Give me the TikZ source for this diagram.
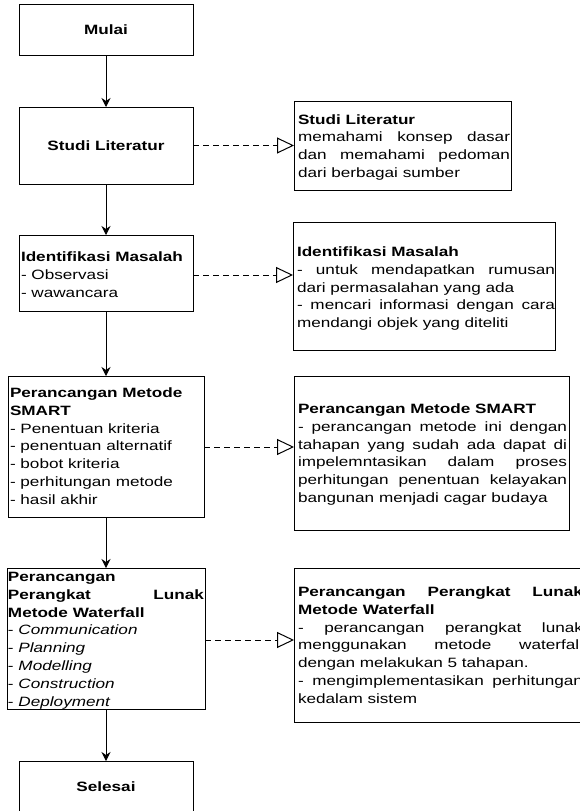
\documentclass[tikz,border=0pt]{standalone}
\usepackage{fontspec}
\setmainfont{Liberation Sans}[FakeStretch=1.27]
\usetikzlibrary{arrows.meta}
\newcommand\jl[2]{{\spaceskip=0pt\xspaceskip=0pt\makebox[#1pt][s]{#2}}}
\newcommand\fst{\rule{0pt}{11pt}}
\begin{document}
\begin{tikzpicture}[x=1pt,y=-1pt,
  box/.style={draw=black, line width=1pt, inner sep=0pt, outer sep=0pt, rectangle},
  lbl/.style={font=\fontsize{13.5}{17.8}\selectfont\bfseries, inner sep=0pt},
  txt/.style={anchor=north west, inner sep=0pt, outer sep=0pt, align=flush left,
              font=\fontsize{13.5}{17.8}\selectfont},
  flow/.style={draw=black, line width=1pt, -{Stealth[length=9pt,width=9pt,inset=3pt]}},
  rel/.style={draw=black, line width=1pt, dash pattern=on 5.5pt off 4.5pt,
              -{Triangle[open,length=17pt,width=16pt,line width=1pt]}}
]
\useasboundingbox (0,0) rectangle (580,811);

% left column boxes
\node[box, minimum width=174pt, minimum height=51pt] (mulai) at (106,29.5) {};
\node[lbl] (tmulai) at (106,30) {Mulai};
\node[box, minimum width=174pt, minimum height=77pt] (studi) at (106,145.5) {};
\node[lbl] (tstudi) at (106,146) {Studi Literatur};
\node[box, minimum width=174pt, minimum height=76pt] (ident) at (106,273) {};
\node[box, minimum width=196pt, minimum height=141pt] (smart) at (106,446.5) {};
\node[box, minimum width=198pt, minimum height=141pt] (water) at (106,638.5) {};
\node[box, minimum width=174pt, minimum height=51pt] (selesai) at (106,786.5) {};
\node[lbl] (tselesai) at (106,787) {Selesai};

% right column boxes
\node[box, minimum width=217pt, minimum height=89pt] (rstudi) at (402.5,145.5) {};
\node[box, minimum width=262pt, minimum height=128pt] (rident) at (424,286) {};
\node[box, minimum width=275pt, minimum height=154pt] (rsmart) at (431.5,453) {};
\node[box, minimum width=292pt, minimum height=154pt] (rwater) at (440,645) {};

% left texts
\node[txt, text width=180pt] (tident) at (21,250.5) {\fst\textbf{Identifikasi Masalah}\\
- Observasi\\
- wawancara};
\node[txt, text width=192pt] (tsmart) at (10,386.5) {\fst\textbf{Perancangan Metode}\\
\textbf{SMART}\\
- Penentuan kriteria\\
- penentuan alternatif\\
- bobot kriteria\\
- perhitungan metode\\
- hasil akhir};
\node[txt, text width=196pt] (twater) at (8,570.5) {\fst\textbf{Perancangan}\\
\jl{196}{\textbf{Perangkat Lunak}}\\
\textbf{Metode Waterfall}\\
- \textit{Communication}\\
- \textit{Planning}\\
- \textit{Modelling}\\
- \textit{Construction}\\
- \textit{Deployment}};

% right texts
\node[txt, text width=212pt] (trstudi) at (298,113) {\fst\textbf{Studi Literatur}\\
\jl{212}{memahami konsep dasar}\\
\jl{212}{dan memahami pedoman}\\
dari berbagai sumber};
\node[txt, text width=258pt] (trident) at (297,245.5) {\fst\textbf{Identifikasi Masalah}\\
\jl{258}{- untuk mendapatkan rumusan}\\
dari permasalahan yang ada\\
\jl{258}{- mencari informasi dengan cara}\\
mendangi objek yang diteliti};
\node[txt, text width=269pt] (trsmart) at (298,402.5) {\fst\textbf{Perancangan Metode SMART}\\
\jl{269}{- perancangan metode ini dengan}\\
\jl{269}{tahapan yang sudah ada dapat di}\\
\jl{269}{impelemntasikan dalam proses}\\
\jl{269}{perhitungan penentuan kelayakan}\\
bangunan menjadi cagar budaya};
\node[txt, text width=285pt] (trwater) at (298,585.5) {\fst\jl{285}{\textbf{Perancangan Perangkat Lunak}}\\
\textbf{Metode Waterfall}\\
\jl{285}{- perancangan perangkat lunak}\\
\jl{285}{menggunakan metode waterfall}\\
dengan melakukan 5 tahapan.\\
\jl{285}{- mengimplementasikan perhitungan}\\
kedalam sistem};

% flow arrows
\draw[flow] (mulai) -- (studi);
\draw[flow] (studi) -- (ident);
\draw[flow] (ident) -- (smart);
\draw[flow] (smart) -- (water);
\draw[flow] (water) -- (selesai);

% dashed relations
\coordinate (y1) at (0,145.5);
\coordinate (y2) at (0,275);
\coordinate (y3) at (0,447);
\coordinate (y4) at (0,640);
\draw[rel] (studi.east |- y1) -- (rstudi.west |- y1);
\draw[rel] (ident.east |- y2) -- (rident.west |- y2);
\draw[rel] (smart.east |- y3) -- (rsmart.west |- y3);
\draw[rel] (water.east |- y4) -- (rwater.west |- y4);
\end{tikzpicture}
\end{document}
